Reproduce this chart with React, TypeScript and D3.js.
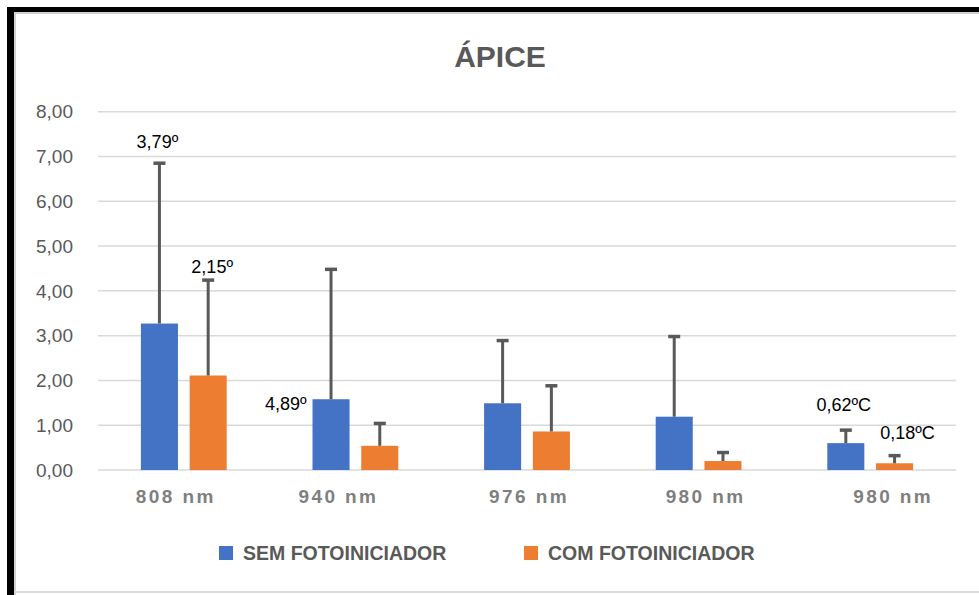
import { useEffect, useRef } from "react"
import * as d3 from "d3"

// chart values
const categories = ["808 nm", "940 nm", "976 nm", "980 nm", "980 nm"]
const seriesNames = ["SEM FOTOINICIADOR", "COM FOTOINICIADOR"]
const semValues = [3.27, 1.58, 1.49, 1.19, 0.60]
const semErrors = [3.58, 2.90, 1.40, 1.79, 0.29]
const comValues = [2.11, 0.54, 0.86, 0.20, 0.15]
const comErrors = [2.13, 0.50, 1.02, 0.19, 0.17]
const yTicks = [0, 1, 2, 3, 4, 5, 6, 7, 8]
const noteTexts = ["3,79º", "2,15º", "4,89º", "0,62ºC", "0,18ºC"]
const noteCategory = [0, 0, 1, 4, 4]
const noteSeries = [0, 1, 0, 0, 1]

const colors = ["#4472c4", "#ed7d31"]

const W = 979, H = 595

const App = () => {
    const ref = useRef<SVGSVGElement>(null)

    useEffect(() => {
        draw()
    }, [])

    const draw = () => {
        const svg = d3.select(ref.current)
        svg.selectAll("*").remove()

        const plotLeft = 98, plotRight = 956
        const x0 = d3.scaleBand<number>()
            .domain(categories.map((_, i) => i))
            .range([plotLeft, plotRight])
            .paddingInner(0.5)
            .paddingOuter(0.25)
        const x1 = d3.scaleBand<number>()
            .domain([0, 1])
            .range([0, x0.bandwidth()])
            .paddingInner(0.24)
        const y = d3.scaleLinear().domain([0, 8]).range([470, 111.7])

        const values = [semValues, comValues]
        const errors = [semErrors, comErrors]

        // background + frame
        svg.append("rect").attr("width", W).attr("height", H).attr("fill", "white")
        svg.append("rect").attr("x", 14).attr("y", 12).attr("width", 2).attr("height", H)
            .attr("fill", "#d0d0d0")
        svg.append("rect").attr("x", 14).attr("y", 12).attr("width", W).attr("height", 2)
            .attr("fill", "#d0d0d0")
        svg.append("rect").attr("x", 7).attr("y", 7).attr("width", 7).attr("height", H)
            .attr("fill", "black")
        svg.append("rect").attr("x", 7).attr("y", 7).attr("width", W).attr("height", 5)
            .attr("fill", "black")
        svg.append("rect").attr("x", 14).attr("y", 591).attr("width", W).attr("height", 2)
            .attr("fill", "#dcdcdc")

        // title
        svg.append("text")
            .attr("x", 500).attr("y", 67)
            .attr("text-anchor", "middle")
            .attr("font-family", "Liberation Sans, Arial, sans-serif")
            .attr("font-weight", "bold")
            .attr("font-size", 30)
            .attr("fill", "#595959")
            .text("ÁPICE")

        // y grid + labels
        const grid = svg.append("g")
        grid.selectAll("line").data(yTicks).enter().append("line")
            .attr("x1", plotLeft).attr("x2", plotRight)
            .attr("y1", d => y(d)).attr("y2", d => y(d))
            .attr("stroke", "#d9d9d9").attr("stroke-width", 1.5)
        grid.selectAll("text").data(yTicks).enter().append("text")
            .attr("x", 73).attr("y", d => y(d))
            .attr("dy", "0.35em")
            .attr("text-anchor", "end")
            .attr("font-family", "Liberation Sans, Arial, sans-serif")
            .attr("font-size", 19)
            .attr("fill", "#595959")
            .text(d => d.toFixed(2).replace(".", ","))

        // bars
        const groups = svg.append("g").selectAll("g").data(categories).enter().append("g")
            .attr("transform", (_, i) => `translate(${x0(i)},0)`)
        groups.each(function (_, ci) {
            const g = d3.select(this)
            ;[0, 1].forEach(s => {
                const v = values[s][ci]
                g.append("rect")
                    .attr("x", x1(s)!)
                    .attr("y", y(v))
                    .attr("width", x1.bandwidth())
                    .attr("height", y(0) - y(v))
                    .attr("fill", colors[s])
            })
            ;[0, 1].forEach(s => {
                const v = values[s][ci], e = errors[s][ci]
                const cx = x1(s)! + x1.bandwidth() / 2
                g.append("line")
                    .attr("x1", cx).attr("x2", cx)
                    .attr("y1", y(v)).attr("y2", y(v + e))
                    .attr("stroke", "#595959").attr("stroke-width", 3)
                g.append("line")
                    .attr("x1", cx - 6).attr("x2", cx + 6)
                    .attr("y1", y(v + e)).attr("y2", y(v + e))
                    .attr("stroke", "#595959").attr("stroke-width", 3.5)
            })
        })

        // category labels (nudged like the original)
        const labelNudge = [-8, -17, 2, 7, 23]
        svg.append("g").selectAll("text").data(categories).enter().append("text")
            .attr("x", (_, i) => x0(i)! + x0.bandwidth() / 2 + labelNudge[i])
            .attr("y", 503)
            .attr("text-anchor", "middle")
            .attr("font-family", "Liberation Sans, Arial, sans-serif")
            .attr("font-weight", "bold")
            .attr("font-size", 19)
            .attr("letter-spacing", 2.4)
            .attr("fill", "#7f7f7f")
            .text(d => d)

        // value notes
        const notePlace = [
            { anchor: "err", dx: -2, dy: -15, align: "middle" },
            { anchor: "err", dx: 4, dy: -7, align: "middle" },
            { anchor: "left", dx: -6, dy: 11, align: "end" },
            { anchor: "err", dx: -2, dy: -19, align: "middle" },
            { anchor: "err", dx: 13, dy: -17, align: "middle" },
        ]
        noteTexts.forEach((t, i) => {
            const ci = noteCategory[i], s = noteSeries[i], p = notePlace[i]
            const v = values[s][ci], e = errors[s][ci]
            const left = x0(ci)! + x1(s)!
            const bx = p.anchor === "left" ? left : left + x1.bandwidth() / 2
            const by = p.anchor === "left" ? y(v) : y(v + e)
            svg.append("text")
                .attr("x", bx + p.dx).attr("y", by + p.dy)
                .attr("text-anchor", p.align)
                .attr("font-family", "Liberation Sans, Arial, sans-serif")
                .attr("font-size", 18)
                .attr("fill", "black")
                .text(t)
        })

        // legend
        const legendX = [219, 524]
        const legend = svg.append("g").selectAll("g").data(seriesNames).enter().append("g")
            .attr("transform", (_, i) => `translate(${legendX[i]},546)`)
        legend.append("rect")
            .attr("width", 14).attr("height", 14)
            .attr("fill", (_, i) => colors[i])
        legend.append("text")
            .attr("x", 24).attr("y", 14)
            .attr("font-family", "Liberation Sans, Arial, sans-serif")
            .attr("font-weight", "bold")
            .attr("font-size", 19.5)
            .attr("fill", "#595959")
            .text(d => d)
    }

    return (
        <div style={{ position: "absolute", left: 0, top: 0 }}>
            <svg ref={ref} width={W} height={H} style={{ display: "block" }} />
        </div>
    )
}

export default App
